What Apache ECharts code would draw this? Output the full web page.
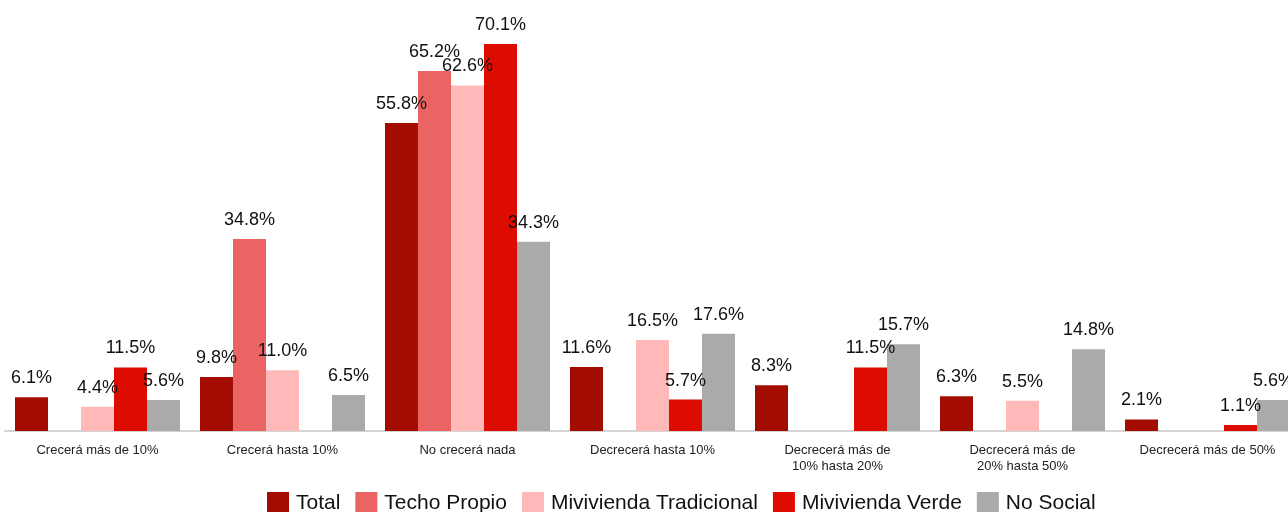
<!DOCTYPE html>
<html>
<head>
<meta charset="utf-8">
<script src="https://cdn.jsdelivr.net/npm/echarts@6/dist/echarts.min.js"></script>
<style>
  html, body { margin: 0; padding: 0; background: #ffffff; overflow: hidden; }
  #chart { width: 1300px; height: 512px; }
</style>
</head>
<body>
<div id="chart"></div>
<script>
// Expectativa de variación de ventas por segmento (%)
const categories = [
  'Crecerá más de 10%',
  'Crecerá hasta 10%',
  'No crecerá nada',
  'Decrecerá hasta 10%',
  'Decrecerá más de\n10% hasta 20%',
  'Decrecerá más de\n20% hasta 50%',
  'Decrecerá más de 50%'
];
const seriesNames = ['Total', 'Techo Propio', 'Mivivienda Tradicional', 'Mivivienda Verde', 'No Social'];
const total         = [6.1, 9.8, 55.8, 11.6, 8.3, 6.3, 2.1];
const techoPropio   = [null, 34.8, 65.2, null, null, null, null];
const mvTradicional = [4.4, 11.0, 62.6, 16.5, null, 5.5, null];
const mvVerde       = [11.5, null, 70.1, 5.7, 11.5, null, 1.1];
const noSocial      = [5.6, 6.5, 34.3, 17.6, 15.7, 14.8, 5.6];
const colors = ['#A30C00', '#EB6464', '#FFB9B9', '#DC0D00', '#AAAAAA'];

const values = [total, techoPropio, mvTradicional, mvVerde, noSocial];
const font = 'Liberation Sans, Arial, sans-serif';

const chart = echarts.init(document.getElementById('chart'), null, { renderer: 'canvas' });
chart.setOption({
  animation: false,
  color: colors,
  textStyle: { fontFamily: font },
  grid: { left: 5, right: 0, top: 17, bottom: 81, containLabel: false },
  legend: {
    data: seriesNames,
    bottom: -7,
    left: 262,
    itemWidth: 22,
    itemHeight: 22,
    itemGap: 15,
    icon: 'rect',
    textStyle: { fontSize: 21, color: '#111111', fontFamily: font, padding: [0, 0, 0, 2] }
  },
  xAxis: {
    type: 'category',
    data: categories,
    axisLine: { show: true, lineStyle: { color: '#d4d4d4', width: 2 } },
    axisTick: { show: false },
    axisLabel: {
      interval: 0,
      fontSize: 13,
      color: '#222222',
      lineHeight: 16,
      margin: 11,
      fontFamily: font
    }
  },
  yAxis: {
    type: 'value',
    min: 0,
    max: 75,
    show: false,
    splitLine: { show: false }
  },
  series: seriesNames.map((name, i) => ({
    name: name,
    type: 'bar',
    data: values[i],
    barGap: '0%',
    barCategoryGap: '10.8%',
    label: {
      show: true,
      position: 'top',
      distance: 10,
      fontSize: 18,
      color: '#111111',
      fontFamily: font,
      formatter: p => p.value == null ? '' : p.value.toFixed(1) + '%'
    }
  }))
});
</script>
</body>
</html>
